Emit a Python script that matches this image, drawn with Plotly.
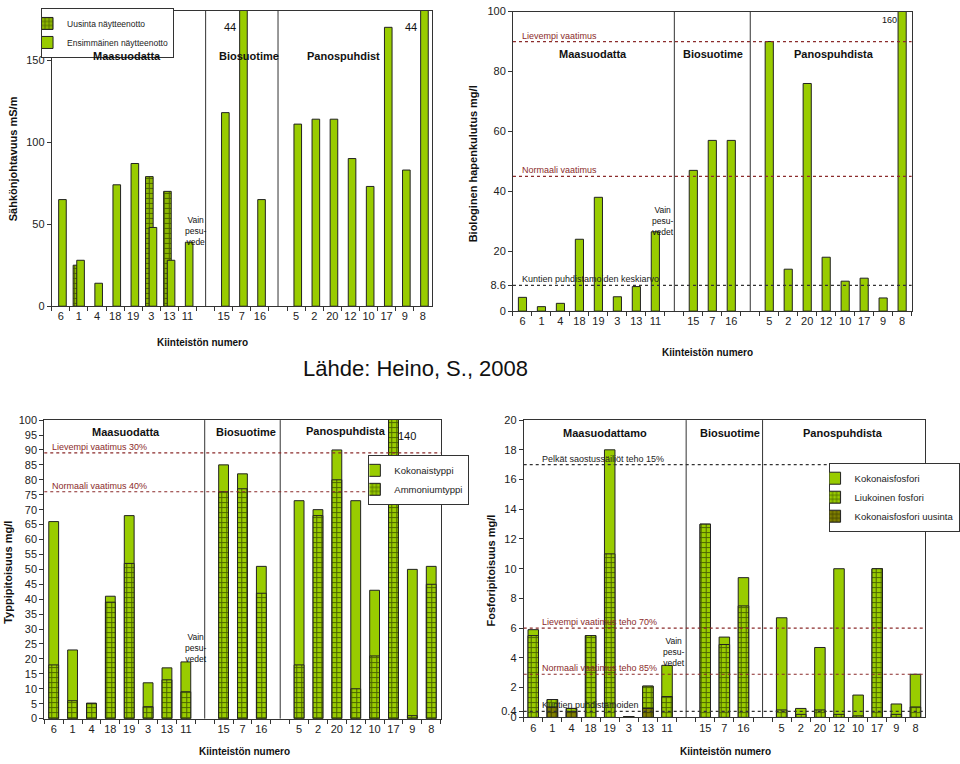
import plotly.graph_objects as go

# ---------------- data ----------------
GAP1, GAP2 = " ", "  "
maasuodatus = ["6", "1", "4", "18", "19", "3", "13", "11"]
biosuodin = ["15", "7", "16"]
panos = ["5", "2", "20", "12", "10", "17", "9", "8"]
categories = maasuodatus + [GAP1] + biosuodin + [GAP2] + panos
kiinteisto = maasuodatus + biosuodin + panos

# Chart 1: Sähkönjohtavuus mS/m
sahko_uusinta = [None, 25, None, None, None, 79, 70, None,
                 None, None, None,
                 None, None, None, None, None, None, None, None]
sahko_ensimmainen = [65, 28, 14, 74, 87, 48, 28, 39,
                     118, 440, 65,
                     111, 114, 114, 90, 73, 170, 83, 440]

# Chart 2: Biologinen hapenkulutus mg/l
bhk = [4.6, 1.5, 2.6, 24, 38, 4.8, 8.2, 26.5,
       47, 57, 57,
       90, 14, 76, 18, 10, 11, 4.4, 160]
bhk_lievempi, bhk_normaali, bhk_kunta = 90, 45, 8.6

# Chart 3: Typpipitoisuus mg/l
typpi_kok = [66, 23, 5.2, 41, 68, 12, 17, 19,
             85, 82, 51,
             73, 70, 90, 73, 43, 140, 50, 51]
typpi_amm = [18, 6, 5, 39, 52, 4, 13, 9,
             76, 77, 42,
             18, 68, 80, 10, 21, 130, 1, 45]
typpi_lievempi, typpi_normaali = 89, 76

# Chart 4: Fosforipitoisuus mg/l
fosfori_kok = [5.9, 1.2, 0.6, 5.5, 18, 0.05, 2.1, 3.5,
               13, 5.4, 9.4,
               6.7, 0.6, 4.7, 10, 1.5, 10, 0.9, 2.9]
fosfori_liuk = [5.5, 1.2, 0.6, 5.5, 11, None, 2.1, 1.4,
                13, 4.9, 7.5,
                0.5, 0.2, 0.5, 0.2, 0.1, 10, 0.2, 0.7]
fosfori_uusinta = [None, 0.7, 0.4, None, None, 0.05, 0.6, None,
                   None, None, None,
                   None, None, None, None, None, None, None, None]
p_saostus, p_lievempi, p_normaali, p_kunta = 17, 6, 2.9, 0.4

# ---------------- styling ----------------
FONT = "Arial, Liberation Sans, sans-serif"
GREEN = "#99cc00"
HATCH_FG = "#4a6400"
OLIVE = "#808000"
RED = "#8b2b2b"
W, H = 960, 764


def px(x):
    return x / W


def py(y):
    return 1 - y / H


def hatch(bg, fg):
    return dict(color=bg, line=dict(color="#222", width=1),
                pattern=dict(shape="+", fgcolor=fg, bgcolor=bg, fgopacity=1,
                             size=5, solidity=0.35))


plain = dict(color=GREEN, line=dict(color="#222", width=1))
hatched = hatch(GREEN, HATCH_FG)
hatched_mid = hatch("#8db800", "#4a6000")
hatched_olive = hatch(OLIVE, "#404000")

fig = go.Figure()

# Chart 1
fig.add_trace(go.Bar(x=kiinteisto, y=sahko_uusinta, name="Uusinta näytteenotto",
                     marker=hatched_mid, offset=-0.32, width=0.42,
                     xaxis="x", yaxis="y", legend="legend"))
fig.add_trace(go.Bar(x=kiinteisto, y=sahko_ensimmainen, name="Ensimmäinen näytteenotto",
                     marker=plain, offset=-0.12, width=0.42,
                     xaxis="x", yaxis="y", legend="legend"))

# Chart 2
fig.add_trace(go.Bar(x=kiinteisto, y=bhk, marker=plain, width=0.43,
                     showlegend=False, xaxis="x2", yaxis="y2"))

# Chart 3
fig.add_trace(go.Bar(x=kiinteisto, y=typpi_kok, name="Kokonaistyppi", marker=plain,
                     width=0.52, xaxis="x3", yaxis="y3", legend="legend2"))
fig.add_trace(go.Bar(x=kiinteisto, y=typpi_amm, name="Ammoniumtyppi", marker=hatched,
                     width=0.52, xaxis="x3", yaxis="y3", legend="legend2"))

# Chart 4
fig.add_trace(go.Bar(x=kiinteisto, y=fosfori_kok, name="Kokonaisfosfori", marker=plain,
                     width=0.55, xaxis="x4", yaxis="y4", legend="legend3"))
fig.add_trace(go.Bar(x=kiinteisto, y=fosfori_liuk, name="Liukoinen fosfori", marker=hatched,
                     width=0.55, xaxis="x4", yaxis="y4", legend="legend3"))
fig.add_trace(go.Bar(x=kiinteisto, y=fosfori_uusinta, name="Kokonaisfosfori uusinta",
                     marker=hatched_olive, width=0.55, xaxis="x4", yaxis="y4",
                     legend="legend3"))

# ---------------- axes ----------------
boxes = {
    "1": dict(x0=53, x1=442, y0=5, y1=305),
    "2": dict(x0=525, x1=933, y0=5.7, y1=310),
    "3": dict(x0=45.3, x1=451, y0=420.7, y1=724),
    "4": dict(x0=536, x1=946.7, y0=420.7, y1=722.7),
}
yconf = {
    "1": dict(range=[0, 180], tickvals=[0, 50, 100, 150]),
    "2": dict(range=[0, 100], tickvals=[0, bhk_kunta, 20, 40, 60, 80, 100],
              ticktext=["0", "8.6", "20", "40", "60", "80", "100"]),
    "3": dict(range=[0, 100], tickvals=list(range(0, 101, 5))),
    "4": dict(range=[0, 20], tickvals=[0, p_kunta] + list(range(2, 21, 2)),
              ticktext=["0", "0.4"] + [str(v) for v in range(2, 21, 2)]),
}
axis_common = dict(showline=True, linecolor="#333", linewidth=1, mirror=True,
                   ticks="outside", ticklen=4, tickcolor="#333", showgrid=False,
                   zeroline=False, tickfont=dict(family=FONT, size=11, color="#222"))
for k, b in boxes.items():
    sx = "" if k == "1" else k
    fig.layout["xaxis" + sx] = dict(
        axis_common, domain=[px(b["x0"]), px(b["x1"])], anchor="y" + sx,
        type="category", categoryorder="array", categoryarray=categories,
        range=[-0.5, len(categories) - 0.5], tickson="boundaries", tickangle=0)
    fig.layout["yaxis" + sx] = dict(
        axis_common, domain=[py(b["y1"]), py(b["y0"])], anchor="x" + sx, **yconf[k])

# ---------------- shapes: dividers & reference lines ----------------
shapes = []
for k in boxes:
    sx = "" if k == "1" else k
    for g in (GAP1, GAP2):
        gi = categories.index(g)
        shapes.append(dict(type="line", xref="x" + sx, yref="y" + sx + " domain",
                           x0=gi, x1=gi, y0=0, y1=1, line=dict(color="#333", width=1)))


def refline(sx, val, color):
    shapes.append(dict(type="line", xref="x" + sx + " domain", yref="y" + sx,
                       x0=0, x1=1, y0=val, y1=val,
                       line=dict(color=color, width=1.2, dash="dot")))


refline("2", bhk_lievempi, RED)
refline("2", bhk_normaali, RED)
refline("2", bhk_kunta, "#333")
refline("3", typpi_lievempi, RED)
refline("3", typpi_normaali, RED)
refline("4", p_saostus, "#333")
refline("4", p_lievempi, RED)
refline("4", p_normaali, RED)
refline("4", p_kunta, "#333")
fig.update_layout(shapes=shapes)

# ---------------- annotations ----------------
ann = []


def text(x, y, t, size=11, bold=False, color="#111", xanchor="center", yanchor="middle", angle=0):
    ann.append(dict(x=px(x), y=py(y), xref="paper", yref="paper", text=(f"<b>{t}</b>" if bold else t),
                    showarrow=False, xanchor=xanchor, yanchor=yanchor, textangle=angle,
                    font=dict(family=FONT, size=size, color=color)))


def reflabel(sx, xpix, val, t, color):
    ann.append(dict(x=px(xpix), y=val, xref="paper", yref="y" + sx, text=t, showarrow=False,
                    xanchor="left", yanchor="bottom", yshift=-1,
                    font=dict(family=FONT, size=9, color=color)))


# chart 1
text(130, 51, "Maasuodatta", bold=True)
text(255, 51, "Biosuotime", bold=True)
text(352, 51, "Panospuhdist", bold=True)
text(235, 21, "44", size=11)
text(421, 21, "44", size=11)
text(187, 229, "Vain<br>pesu-<br>vede", size=8.5, xanchor="left")
text(13, 155, "Sähkönjohtavuus mS/m", bold=True, angle=-90)
text(207, 342, "Kiinteistön numero", size=10, bold=True)

# chart 2
text(607, 49, "Maasuodatta", bold=True)
text(730, 49, "Biosuotime", bold=True)
text(854, 49, "Panospuhdista", bold=True)
text(910, 14, "160", size=9)
text(665, 218, "Vain<br>pesu-<br>vedet", size=8.5, xanchor="left")
text(485, 160, "Biologinen hapenkulutus mg/l", bold=True, angle=-90)
text(724, 352, "Kiinteistön numero", size=10, bold=True)
reflabel("2", 532, bhk_lievempi, "Lievempi vaatimus", RED)
reflabel("2", 532, bhk_normaali, "Normaali vaatimus", RED)
reflabel("2", 532, bhk_kunta, "Kuntien puhdistamoiden keskiarvo", "#222")

# chart 3
text(129, 433, "Maasuodatta", bold=True)
text(252, 433, "Biosuotime", bold=True)
text(354, 432, "Panospuhdista", bold=True)
text(417, 437, "140", size=11)
text(187, 652, "Vain<br>pesu-<br>vedet", size=8.5, xanchor="left")
text(8, 575, "Typpipitoisuus mg/l", bold=True, angle=-90)
text(250, 757, "Kiinteistön numero", size=10, bold=True)
reflabel("3", 51, typpi_lievempi, "Lievempi vaatimus 30%", RED)
reflabel("3", 51, typpi_normaali, "Normaali vaatimus 40%", RED)

# chart 4
text(619, 434, "Maasuodattamo", bold=True)
text(747, 434, "Biosuotime", bold=True)
text(863, 434, "Panospuhdista", bold=True)
text(676, 656, "Vain<br>pesu-<br>vedet", size=8.5, xanchor="left")
text(503, 573, "Fosforipitoisuus mg/l", bold=True, angle=-90)
text(743, 757, "Kiinteistön numero", size=10, bold=True)
reflabel("4", 553, p_saostus, "Pelkät saostussäiliöt teho 15%", "#222")
reflabel("4", 553, p_lievempi, "Lievempi vaatimus teho 70%", RED)
reflabel("4", 553, p_normaali, "Normaali vaatimus teho 85%", RED)
reflabel("4", 553, p_kunta, "Kuntien puhdistamoiden", "#222")

# source
text(425, 368, "Lähde: Heino, S., 2008", size=22)

fig.update_layout(annotations=ann)

# ---------------- legends ----------------
leg_common = dict(xanchor="left", yanchor="top", bgcolor="white", bordercolor="#333",
                  borderwidth=1, font=dict(family=FONT, size=9.5, color="#222"),
                  tracegroupgap=0, itemwidth=30, indentation=-15)
fig.update_layout(
    legend=dict(leg_common, x=px(42), y=py(2), font=dict(family=FONT, size=8.5, color="#222")),
    legend2=dict(leg_common, x=px(377), y=py(456)),
    legend3=dict(leg_common, x=px(848), y=py(464)),
)

fig.update_layout(
    width=W, height=H, margin=dict(l=0, r=0, t=0, b=0),
    barmode="overlay", paper_bgcolor="white", plot_bgcolor="white",
    font=dict(family=FONT, size=11, color="#222"),
)

fig.write_html("out.html", config={"displayModeBar": False},
               post_script="document.body.style.margin='0px';")
